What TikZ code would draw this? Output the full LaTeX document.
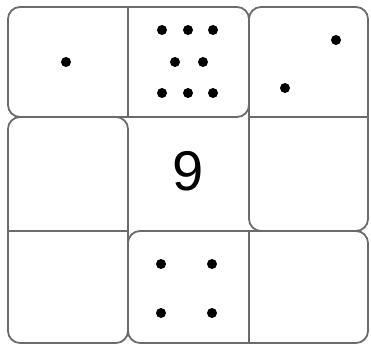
\documentclass[tikz,border=0pt]{standalone}
\usepackage{fontspec}
\setmainfont{Liberation Sans}
\begin{document}
\begin{tikzpicture}[x=1pt,y=-1pt,
  tile/.style={draw=black!58, line width=1.8pt, rounded corners=12pt},
  divider/.style={draw=black!58, line width=1.8pt},
  pip/.style={circle, fill=black, draw=none, inner sep=0pt, minimum size=10pt},
  numlabel/.style={inner sep=0pt, font=\fontsize{56}{60}\selectfont}]
\useasboundingbox (0,0) rectangle (371,344);
% grid corner coordinates
\coordinate (c00) at (8,7);    \coordinate (c10) at (128,7);   \coordinate (c20) at (249,7);   \coordinate (c30) at (368,7);
\coordinate (c01) at (8,117);  \coordinate (c11) at (128,117); \coordinate (c21) at (249,117); \coordinate (c31) at (368,117);
\coordinate (c02) at (8,231);  \coordinate (c12) at (128,231); \coordinate (c22) at (249,231); \coordinate (c32) at (368,231);
\coordinate (c03) at (8,343);  \coordinate (c13) at (128,343); \coordinate (c23) at (249,343); \coordinate (c33) at (368,343);
% dominoes
\draw[tile] (c00) rectangle (c21);
\draw[divider] (c10) -- (c11);
\draw[tile] (c20) rectangle (c32);
\draw[divider] (c21) -- (c31);
\draw[tile] (c01) rectangle (c13);
\draw[divider] (c02) -- (c12);
\draw[tile] (c12) rectangle (c33);
\draw[divider] (c22) -- (c23);
% pips: one
\node[pip] (p1) at (66,62) {};
% pips: eight
\node[pip] (e1) at (162,30) {};
\node[pip] (e2) at (188,30) {};
\node[pip] (e3) at (213,30) {};
\node[pip] (e4) at (175,62) {};
\node[pip] (e5) at (203,62) {};
\node[pip] (e6) at (162,93) {};
\node[pip] (e7) at (188,93) {};
\node[pip] (e8) at (213,93) {};
% pips: two
\node[pip] (t1) at (336,40) {};
\node[pip] (t2) at (285,88) {};
% pips: four
\node[pip] (f1) at (161,264) {};
\node[pip] (f2) at (212,264) {};
\node[pip] (f3) at (161,313) {};
\node[pip] (f4) at (212,313) {};
% number
\node[numlabel] (nine) at (188.5,171) {9};
\end{tikzpicture}
\end{document}
